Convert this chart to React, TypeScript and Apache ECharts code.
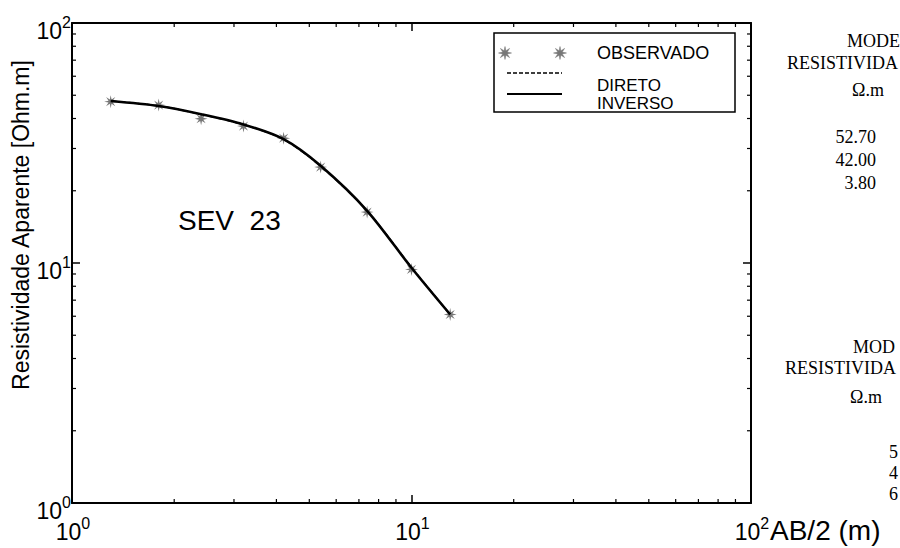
import React, { useEffect, useRef } from "react";
import * as echarts from "echarts";

// AB/2 (m)
const abHalf = [1.3, 1.8, 2.4, 3.2, 4.2, 5.4, 7.4, 10, 13];
// Apparent resistivity observed (Ohm.m)
const observado = [47.0, 45.5, 39.9, 37.2, 33.1, 25.1, 16.3, 9.4, 6.1];
// Forward (direct) model curve
const direto = [47.3, 45.2, 41.6, 37.7, 32.7, 25.3, 16.5, 9.6, 6.1];
// Inversion model curve
const inverso = [47.3, 45.1, 41.7, 37.8, 32.8, 25.4, 16.5, 9.55, 6.1];
// minor tick values on both log axes
const minorTicks = [2, 3, 4, 5, 6, 7, 8, 9, 20, 30, 40, 50, 60, 70, 80, 90];
// model resistivity table
const modelResist = ["52.70", "42.00", "3.80"];
const modelResist2 = ["5", "4", "6"];

const SANS = "'Liberation Sans', Arial, sans-serif";
const SERIF = "'Liberation Serif', 'Times New Roman', serif";

function starPoints(cx: number, cy: number, r: number, ri: number): number[][] {
  const pts: number[][] = [];
  for (let i = 0; i < 16; i++) {
    const a = (Math.PI / 8) * i - Math.PI / 2;
    const rr = i % 2 === 0 ? r : ri;
    pts.push([cx + rr * Math.cos(a), cy + rr * Math.sin(a)]);
  }
  return pts;
}

function starPath(): string {
  const pts = starPoints(10, 10, 10, 3.6);
  return "path://M" + pts.map((p) => p[0].toFixed(2) + "," + p[1].toFixed(2)).join("L") + "Z";
}

export default function App() {
  const ref = useRef<HTMLDivElement>(null);
  useEffect(() => {
    if (!ref.current) return;
    const chart = echarts.init(ref.current, null, { renderer: "svg" });
    const supLabel = (v: number) => `{b|10}{s|${Math.round(Math.log10(v))}}`;
    const rich = {
      b: { fontSize: 23, fontFamily: SANS, color: "#000", verticalAlign: "bottom", lineHeight: 28 },
      s: { fontSize: 16, fontFamily: SANS, color: "#000", verticalAlign: "top", lineHeight: 28 },
    };
    const axisLine = { show: true, onZero: false, lineStyle: { color: "#000", width: 2 } };
    const axisTick = { show: true, inside: true, length: 8, lineStyle: { color: "#000", width: 1.5 } };
    const star = starPath();
    const legendStar = (x: number, y: number) => ({
      type: "polygon",
      shape: { points: starPoints(x, y, 6.5, 2.4) },
      style: { fill: "#777", stroke: "#777", lineWidth: 0.5 },
      z: 100,
    });
    const txt = (x: number, y: number, text: string, font: string, align = "left") => ({
      type: "text",
      x,
      y,
      style: { text, font, fill: "#000", align, verticalAlign: "middle" },
      z: 100,
    });
    chart.setOption({
      animation: false,
      backgroundColor: "#fff",
      grid: { left: 72, right: 149, top: 23, bottom: 45 },
      xAxis: [
        {
          type: "log",
          min: 1,
          max: 100,
          position: "bottom",
          axisLine,
          axisTick,
          splitLine: { show: false },
          axisLabel: { formatter: supLabel, rich, margin: 12, padding: [0, 0, 0, 2] },
        },
        {
          type: "log",
          min: 1,
          max: 100,
          position: "top",
          axisLine,
          axisTick,
          splitLine: { show: false },
          axisLabel: { show: false },
        },
      ],
      yAxis: [
        {
          type: "log",
          min: 1,
          max: 100,
          position: "left",
          axisLine,
          axisTick,
          splitLine: { show: false },
          axisLabel: { formatter: supLabel, rich, margin: 1, padding: [11, 0, 0, 0] },
        },
        {
          type: "log",
          min: 1,
          max: 100,
          position: "right",
          axisLine,
          axisTick,
          splitLine: { show: false },
          axisLabel: { show: false },
        },
      ],
      series: [
        {
          type: "custom",
          name: "minorTicks",
          xAxisIndex: 0,
          yAxisIndex: 0,
          silent: true,
          clip: false,
          data: minorTicks.map((v) => [v, v]),
          renderItem: (params: any, api: any) => {
            const v = api.value(0);
            const b = api.coord([v, 1]);
            const t = api.coord([v, 100]);
            const l = api.coord([1, v]);
            const r = api.coord([100, v]);
            const st = { stroke: "#000", lineWidth: 1.2 };
            return {
              type: "group",
              children: [
                { type: "line", shape: { x1: b[0], y1: b[1], x2: b[0], y2: b[1] - 4 }, style: st },
                { type: "line", shape: { x1: t[0], y1: t[1], x2: t[0], y2: t[1] + 4 }, style: st },
                { type: "line", shape: { x1: l[0], y1: l[1], x2: l[0] + 4, y2: l[1] }, style: st },
                { type: "line", shape: { x1: r[0], y1: r[1], x2: r[0] - 4, y2: r[1] }, style: st },
              ],
            };
          },
        },
        {
          type: "line",
          name: "DIRETO",
          data: abHalf.map((x, i) => [x, direto[i]]),
          smooth: 0.3,
          showSymbol: false,
          lineStyle: { color: "#000", width: 1.5, type: "dashed" },
          z: 3,
        },
        {
          type: "scatter",
          name: "OBSERVADO",
          data: abHalf.map((x, i) => [x, observado[i]]),
          symbol: star,
          symbolSize: 13,
          itemStyle: { color: "#777", opacity: 1 },
          z: 4,
        },
        {
          type: "line",
          name: "INVERSO",
          data: abHalf.map((x, i) => [x, inverso[i]]),
          smooth: 0.3,
          showSymbol: false,
          lineStyle: { color: "#000", width: 2.6 },
          z: 5,
        },
      ],
      graphic: [
        // legend box
        {
          type: "rect",
          shape: { x: 494, y: 33, width: 241, height: 79 },
          style: { fill: "#fff", stroke: "#000", lineWidth: 1.5 },
          z: 90,
        },
        legendStar(505, 53),
        legendStar(560, 53),
        txt(597, 53, "OBSERVADO", `18px ${SANS}`),
        {
          type: "line",
          shape: { x1: 507, y1: 73, x2: 562, y2: 73 },
          style: { stroke: "#000", lineWidth: 1.5, lineDash: [4, 2] },
          z: 100,
        },
        {
          type: "line",
          shape: { x1: 507, y1: 94, x2: 562, y2: 94 },
          style: { stroke: "#000", lineWidth: 2 },
          z: 100,
        },
        txt(597, 85, "DIRETO", `17px ${SANS}`),
        txt(597, 103, "INVERSO", `17px ${SANS}`),
        // station label
        txt(178, 220, "SEV  23", `28px ${SANS}`),
        // y-axis title
        {
          type: "text",
          x: 21,
          y: 225,
          rotation: Math.PI / 2,
          style: {
            text: "Resistividade Aparente [Ohm.m]",
            font: `23px ${SANS}`,
            fill: "#000",
            align: "center",
            verticalAlign: "middle",
          },
        },
        // x-axis title
        txt(770, 530, "AB/2 (m)", `28px ${SANS}`),
        // right-side model tables
        txt(847, 41, "MODE", `18px ${SERIF}`),
        txt(787, 63, "RESISTIVIDA", `18px ${SERIF}`),
        txt(868, 90, "Ω.m", `18px ${SERIF}`, "center"),
        ...modelResist.map((t, i) => txt(876, 137 + i * 23, t, `18px ${SERIF}`, "right")),
        txt(853, 347, "MOD", `18px ${SERIF}`),
        txt(785, 368, "RESISTIVIDA", `18px ${SERIF}`),
        txt(866, 397, "Ω.m", `18px ${SERIF}`, "center"),
        ...modelResist2.map((t, i) => txt(889, 452 + i * 21, t, `18px ${SERIF}`)),
      ],
    });
    return () => chart.dispose();
  }, []);
  return <div ref={ref} style={{ position: "absolute", left: 0, top: 0, width: 900, height: 548 }} />;
}
